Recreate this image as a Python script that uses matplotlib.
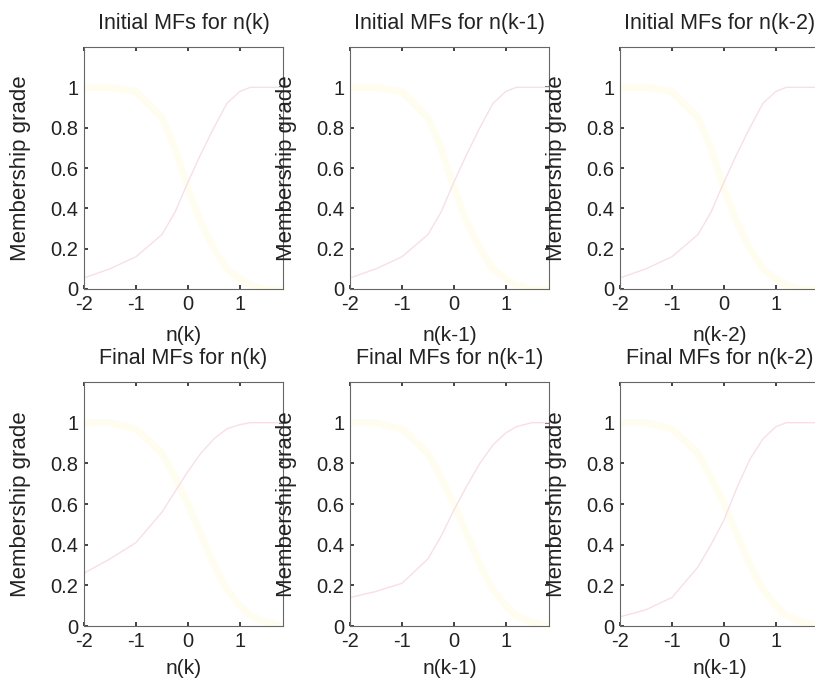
import matplotlib
matplotlib.use("Agg")
import matplotlib.pyplot as plt
import numpy as np

plt.rcParams['font.family'] = ['Liberation Sans', 'DejaVu Sans']

x_pts = [-2.0, -1.5, -1.0, -0.5, -0.25, 0.0, 0.25, 0.5, 0.75, 1.0, 1.2, 1.5, 1.83]

# increasing (pink) MF per panel
init_nk   = [0.055, 0.10, 0.16, 0.27, 0.38, 0.53, 0.67, 0.80, 0.92, 0.98, 1.0, 1.0, 1.0]
init_nk1  = [0.055, 0.10, 0.16, 0.27, 0.38, 0.53, 0.67, 0.80, 0.92, 0.98, 1.0, 1.0, 1.0]
init_nk2  = [0.055, 0.10, 0.16, 0.27, 0.38, 0.53, 0.67, 0.80, 0.92, 0.98, 1.0, 1.0, 1.0]
final_nk  = [0.26, 0.33, 0.41, 0.56, 0.66, 0.76, 0.85, 0.92, 0.97, 0.99, 1.0, 1.0, 1.0]
final_nk1 = [0.14, 0.17, 0.21, 0.33, 0.44, 0.57, 0.69, 0.80, 0.89, 0.95, 0.98, 1.0, 1.0]
final_nk2 = [0.045, 0.08, 0.14, 0.29, 0.40, 0.52, 0.68, 0.82, 0.92, 0.98, 1.0, 1.0, 1.0]

# decreasing (yellow) MF per panel
dec_init  = [1.0, 1.0, 0.98, 0.85, 0.70, 0.50, 0.33, 0.20, 0.10, 0.05, 0.02, 0.0, 0.0]
dec_final = [1.0, 1.0, 0.97, 0.85, 0.73, 0.60, 0.45, 0.30, 0.18, 0.10, 0.05, 0.02, 0.0]

titles = ["Initial MFs for n(k)", "Initial MFs for n(k-1)", "Initial MFs for n(k-2)",
          "Final MFs for n(k)", "Final MFs for n(k-1)", "Final MFs for n(k-2)"]
xlabels = ["n(k)", "n(k-1)", "n(k-2)", "n(k)", "n(k-1)", "n(k-1)"]
inc_series = [init_nk, init_nk1, init_nk2, final_nk, final_nk1, final_nk2]
dec_series = [dec_init, dec_init, dec_init, dec_final, dec_final, dec_final]

fig = plt.figure(figsize=(8.15, 6.85), dpi=100)

lefts = [84/815, 350/815, 620/815]
width = 199/815
row_bottoms = [1 - 289/685, 1 - 626/685]
row_heights = [242/685, 244/685]

for i in range(6):
    r, c = divmod(i, 3)
    ax = fig.add_axes([lefts[c], row_bottoms[r], width, row_heights[r]])
    ax.plot(x_pts, dec_series[i], color='#fffdf0', lw=5, solid_capstyle='butt')
    ax.plot(x_pts, inc_series[i], color='#f8dfe7', lw=1.0)
    ax.set_xlim(-2, 1.83)
    ax.set_ylim(0, 1.2)
    ax.set_xticks([-2, -1, 0, 1])
    ax.set_xticklabels(['-2', '-1', '0', '1'])
    ax.set_yticks([0, 0.2, 0.4, 0.6, 0.8, 1])
    ax.set_yticklabels(['0', '0.2', '0.4', '0.6', '0.8', '1'])
    ax.tick_params(direction='in', length=3, width=1.2, top=True, right=True,
                   labelsize=14.5, pad=4, colors='#222222', labelcolor='#222222')
    for s in ax.spines.values():
        s.set_color('#666666')
        s.set_linewidth(0.8)
    ax.set_title(titles[i], fontsize=15.5, pad=13 if r == 0 else 13, color='#222222')
    ax.set_xlabel(xlabels[i], fontsize=15, labelpad=9 if r == 0 else 6, color='#222222')
    ax.set_ylabel("Membership grade", fontsize=16, labelpad=14, color='#222222')

fig.savefig("out.png", dpi=100)
